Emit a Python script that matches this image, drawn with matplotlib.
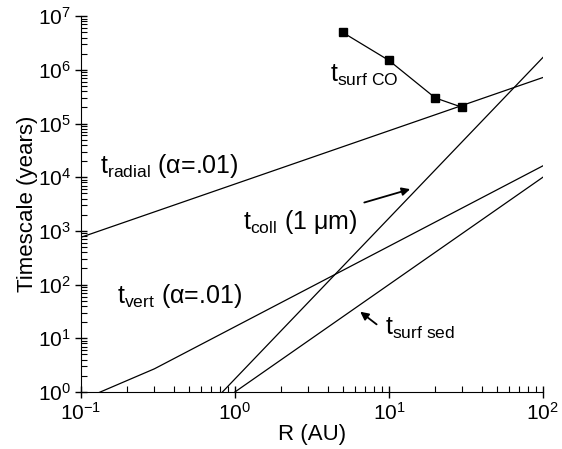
import matplotlib
matplotlib.use('Agg')
import matplotlib.pyplot as plt
from matplotlib.ticker import LogLocator, NullFormatter, FuncFormatter
import numpy as np

plt.rcParams['font.family'] = ['Liberation Sans', 'DejaVu Sans']
plt.rcParams['mathtext.fontset'] = 'custom'
plt.rcParams['mathtext.rm'] = 'Liberation Sans'
plt.rcParams['mathtext.it'] = 'Liberation Sans:italic'
plt.rcParams['mathtext.bf'] = 'Liberation Sans:bold'

# timescales vs radius (AU)
r_radial = [0.1, 100]
t_radial = [760, 7.2e5]

r_co = [5, 10, 20, 30]
t_co = [5.0e6, 1.5e6, 3.0e5, 2.0e5]

r_coll = [0.83, 100]
t_coll = [1.0, 1.7e6]

r_vert = [0.1, 0.3, 100]
t_vert = [0.7, 2.7, 1.63e4]

r_sed = [1.0, 100]
t_sed = [1.0, 1.0e4]

fig = plt.figure(figsize=(5.62, 4.49), dpi=100)
ax = fig.add_axes([0.144, 0.127, 0.822, 0.837])

ax.plot(r_radial, t_radial, color='black', lw=0.9)
ax.plot(r_co, t_co, color='black', lw=0.9, marker='s', ms=5.5)
ax.plot(r_coll, t_coll, color='black', lw=0.9)
ax.plot(r_vert, t_vert, color='black', lw=0.9)
ax.plot(r_sed, t_sed, color='black', lw=0.9)

ax.set_xscale('log')
ax.set_yscale('log')
ax.set_xlim(0.1, 100)
ax.set_ylim(1, 1e7)

ax.spines['top'].set_visible(False)
ax.spines['right'].set_visible(False)


def pow_label(v, pos):
    return r'$\mathregular{10^{%d}}$' % int(round(np.log10(v)))


ax.xaxis.set_major_locator(LogLocator(base=10, numticks=10))
ax.yaxis.set_major_locator(LogLocator(base=10, numticks=10))
ax.xaxis.set_major_formatter(FuncFormatter(pow_label))
ax.yaxis.set_major_formatter(FuncFormatter(pow_label))
ax.xaxis.set_minor_locator(LogLocator(base=10, subs=range(2, 10), numticks=20))
ax.yaxis.set_minor_locator(LogLocator(base=10, subs=range(2, 10), numticks=20))
ax.xaxis.set_minor_formatter(NullFormatter())
ax.yaxis.set_minor_formatter(NullFormatter())
ax.tick_params(which='major', direction='inout', length=8, width=1, labelsize=15, pad=3)
ax.tick_params(which='minor', direction='in', length=4, width=0.8)

ax.set_xlabel('R (AU)', fontsize=16, labelpad=0)
ax.set_ylabel('Timescale (years)', fontsize=16, labelpad=0)

fs = 18
ax.text(0.133, 1.2e4, r'$\mathregular{t_{radial}}$ ($\mathregular{\alpha}$=.01)', fontsize=fs, va='baseline')
ax.text(0.172, 45, r'$\mathregular{t_{vert}}$ ($\mathregular{\alpha}$=.01)', fontsize=fs, va='baseline')
ax.text(1.13, 1070, r'$\mathregular{t_{coll}}$ (1 $\mathregular{\mu}$m)', fontsize=fs, va='baseline')
ax.text(4.14, 6.0e5, r'$\mathregular{t_{surf\ CO}}$', fontsize=fs, va='baseline')
ax.text(9.42, 11.5, r'$\mathregular{t_{surf\ sed}}$', fontsize=fs, va='baseline')

ax.annotate('', xy=(14.3, 6200), xytext=(6.65, 3270),
            arrowprops=dict(arrowstyle='-|>', color='black', lw=1.3, mutation_scale=12))
ax.annotate('', xy=(6.3, 33.6), xytext=(8.6, 16.9),
            arrowprops=dict(arrowstyle='-|>', color='black', lw=1.3, mutation_scale=12))

fig.savefig('out.png', dpi=100)
